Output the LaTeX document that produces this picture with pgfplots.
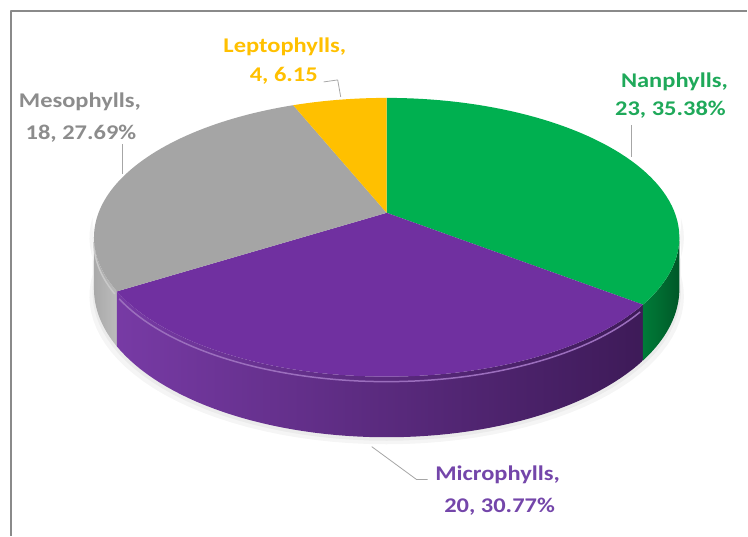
\documentclass[border=0pt]{standalone}
\usepackage{pgfplots}
\usepackage{pgfplotstable}
\pgfplotsset{compat=1.18}
\usepackage{fontspec}
\setmainfont{Carlito}
\newfontfamily\lbl[FakeStretch=1.17]{Carlito}
\definecolor{cgreen}{HTML}{00B050}
\definecolor{cpurple}{HTML}{7030A0}
\definecolor{cgray}{HTML}{A5A5A5}
\definecolor{cgold}{HTML}{FFC000}
\definecolor{tgray}{HTML}{8C8C8C}
\definecolor{tpurple}{HTML}{7446AA}
\definecolor{tgreen}{HTML}{1FA95A}
\definecolor{frame}{HTML}{8A8A8A}
\definecolor{leader}{HTML}{A6A6A6}

\pgfplotstableread{
name value
Nanphylls 23
Microphylls 20
Mesophylls 18
Leptophylls 4
}\piedata

\pgfplotstablegetelem{0}{value}\of\piedata \let\vA\pgfplotsretval
\pgfplotstablegetelem{1}{value}\of\piedata \let\vB\pgfplotsretval
\pgfplotstablegetelem{2}{value}\of\piedata \let\vC\pgfplotsretval
\pgfplotstablegetelem{3}{value}\of\piedata \let\vD\pgfplotsretval
\pgfmathsetmacro\tot{\vA+\vB+\vC+\vD}
\pgfmathsetmacro\aA{90}
\pgfmathsetmacro\aB{\aA-360*\vA/\tot}
\pgfmathsetmacro\aC{\aB-360*\vB/\tot}
\pgfmathsetmacro\aD{\aC-360*\vC/\tot}
\pgfmathsetmacro\aE{\aD-360*\vD/\tot}
\pgfmathsetmacro\sL{-169.9}
\pgfmathsetmacro\sR{-10.1}

\begin{document}
\begin{tikzpicture}[
  declare function={
    PX(\kt,\kr)=387+288.4*\kr*cos(\kt)/(1+0.1756*\kr*sin(\kt));
    PY(\kt,\kr)=323+135.2*\kr*sin(\kt)/(1+0.1756*\kr*sin(\kt));
    DD(\kt)=50/(1+0.1756*sin(\kt));
    TS(\ki,\ka,\kb)=\ka+(\kb-\ka)*\ki/60;
    TT(\ki,\ka,\kb)=(\ki<=60)*(\ka+(\kb-\ka)*\ki/60)+(\ki>60)*(\kb-(\kb-\ka)*(\ki-61)/60);
    ZZ(\ki)=(\ki>60);
  }]
\begin{axis}[
  width=748bp, height=536bp, scale only axis,
  xmin=0, xmax=748, ymin=0, ymax=536,
  hide axis, clip=false,
  every axis plot/.append style={line join=round},
]
% full picture area
\path (axis cs:0,0) rectangle (axis cs:748,536);
% frame
\addplot[draw=frame, line width=1.3bp] coordinates {(11,0) (11,525) (748,525)};

% soft shadow
\addplot[draw=none, fill=black, fill opacity=0.04, samples at={0,...,121}]
  ({PX(TT(x,-178,-2),1.015)}, {PY(TT(x,-178,-2),1)-ZZ(x)*(DD(TT(x,-178,-2))+7)});
\addplot[draw=none, fill=black, fill opacity=0.04, samples at={0,...,121}]
  ({PX(TT(x,-175,-5),1.005)}, {PY(TT(x,-175,-5),1)-ZZ(x)*(DD(TT(x,-175,-5))+3.5)});

% sides (front, visible part)
\addplot[draw=none, left color=cgray!95!white, right color=cgray!75!white, samples at={0,...,121}]
  ({PX(TT(x,\sL,\aC),1)}, {PY(TT(x,\sL,\aC),1)-ZZ(x)*DD(TT(x,\sL,\aC))});
\addplot[draw=none, left color=cpurple!95!white, right color=cpurple!55!black, samples at={0,...,121}]
  ({PX(TT(x,\aC,\aB),1)}, {PY(TT(x,\aC,\aB),1)-ZZ(x)*DD(TT(x,\aC,\aB))});
\addplot[draw=none, left color=cgreen!70!black, right color=cgreen!50!black, samples at={0,...,121}]
  ({PX(TT(x,\aB,\sR),1)}, {PY(TT(x,\aB,\sR),1)-ZZ(x)*DD(TT(x,\aB,\sR))});

% bevel highlights
\addplot[draw=cpurple!70!white, line width=1.5bp, samples at={0,...,60}]
  ({PX(TS(x,\aC+1,\aB-1),1)}, {PY(TS(x,\aC+1,\aB-1),1)-5});
\addplot[draw=cgray!60!white, line width=1.5bp, samples at={0,...,60}]
  ({PX(TS(x,\sL,\aC-1),1)}, {PY(TS(x,\sL,\aC-1),1)-5});

% top faces
\addplot[fill=cgreen, draw=none, samples at={-1,0,...,60}]
  ({PX(TS(x,\aB,\aA),x>=0)}, {PY(TS(x,\aB,\aA),x>=0)});
\addplot[fill=cpurple, draw=none, samples at={-1,0,...,60}]
  ({PX(TS(x,\aC,\aB),x>=0)}, {PY(TS(x,\aC,\aB),x>=0)});
\addplot[fill=cgray, draw=none, samples at={-1,0,...,60}]
  ({PX(TS(x,\aD,\aC),x>=0)}, {PY(TS(x,\aD,\aC),x>=0)});
\addplot[fill=cgold, draw=none, samples at={-1,0,...,60}]
  ({PX(TS(x,\aE,\aD),x>=0)}, {PY(TS(x,\aE,\aD),x>=0)});

% leader lines
\addplot[draw=leader, line width=0.8bp] coordinates {(324,454) (338,456) (341,439)};
\addplot[draw=leader, line width=0.8bp] coordinates {(123,392) (123,362)};
\addplot[draw=leader, line width=0.8bp] coordinates {(632,411) (632,379)};
\addplot[draw=leader, line width=0.8bp] coordinates {(372,89) (417,56) (428,56)};

% labels
\tikzset{lab/.style={anchor=base, inner sep=0pt, font=\lbl\bfseries\fontsize{21}{25}\selectfont}}
\node[lab, text=cgold] at (axis cs:285,483) {Leptophylls,};
\node[lab, text=cgold] at (axis cs:284,454) {4, 6.15};
\node[lab, text=tgray] at (axis cs:80,428) {Mesophylls,};
\node[lab, text=tgray] at (axis cs:81,396) {18, 27.69\%};
\node[lab, text=tgreen] at (axis cs:675,448) {Nanphylls,};
\node[lab, text=tgreen] at (axis cs:671,420) {23, 35.38\%};
\node[lab, text=tpurple] at (axis cs:498,55) {Microphylls,};
\node[lab, text=tpurple] at (axis cs:500,23) {20, 30.77\%};
\end{axis}
\end{tikzpicture}
\end{document}
